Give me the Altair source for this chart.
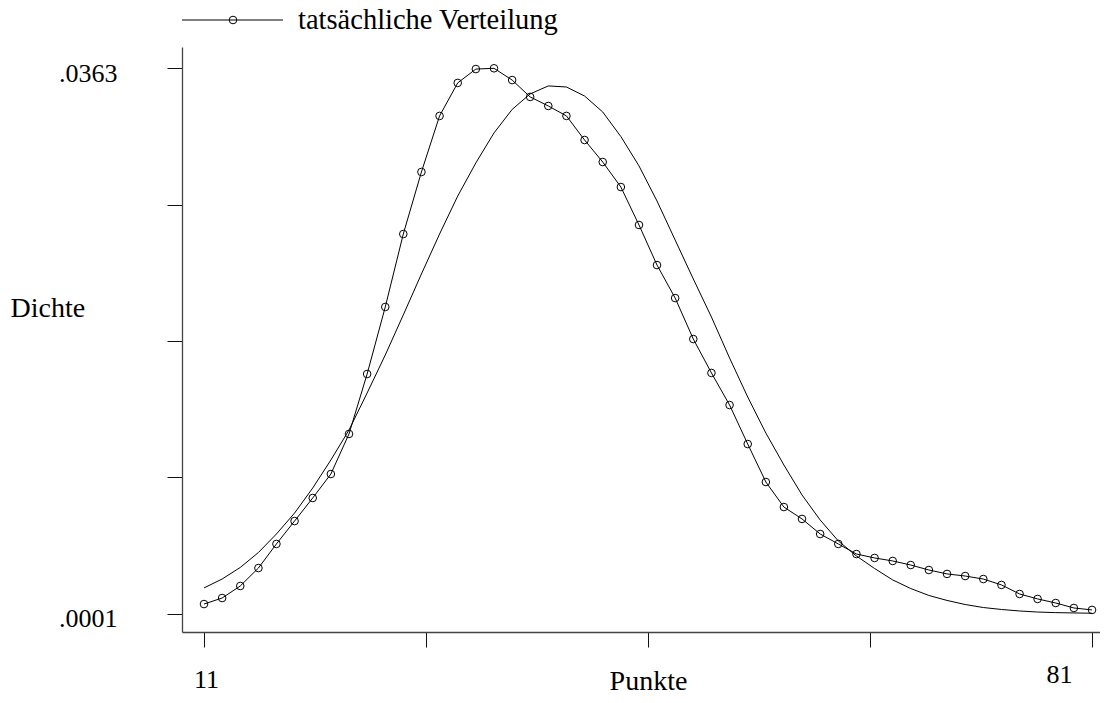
import altair as alt
import pandas as pd

# ---- data ----
x_points = [11.00, 12.43, 13.86, 15.29, 16.71, 18.14, 19.57, 21.00, 22.43, 23.86,
            25.29, 26.71, 28.14, 29.57, 31.00, 32.43, 33.86, 35.29, 36.71, 38.14,
            39.57, 41.00, 42.43, 43.86, 45.29, 46.71, 48.14, 49.57, 51.00, 52.43,
            53.86, 55.29, 56.71, 58.14, 59.57, 61.00, 62.43, 63.86, 65.29, 66.71,
            68.14, 69.57, 71.00, 72.43, 73.86, 75.29, 76.71, 78.14, 79.57, 81.00]

kernel_density = [0.00074, 0.00114, 0.00194, 0.00313, 0.00473, 0.00625, 0.00778, 0.00937, 0.01203, 0.01601,
                  0.02046, 0.02530, 0.02942, 0.03314, 0.03533, 0.03625, 0.03630, 0.03552, 0.03440, 0.03380,
                  0.03314, 0.03154, 0.03008, 0.02842, 0.02590, 0.02324, 0.02105, 0.01833, 0.01608, 0.01395,
                  0.01136, 0.00884, 0.00718, 0.00639, 0.00539, 0.00473, 0.00406, 0.00380, 0.00360, 0.00333,
                  0.00300, 0.00274, 0.00260, 0.00240, 0.00201, 0.00141, 0.00108, 0.00081, 0.00048, 0.00035]

normal_density = [0.00181, 0.00240, 0.00317, 0.00416, 0.00539, 0.00678, 0.00844, 0.01030, 0.01229, 0.01475,
                  0.01727, 0.01993, 0.02265, 0.02530, 0.02782, 0.03002, 0.03201, 0.03357, 0.03460, 0.03513,
                  0.03506, 0.03446, 0.03340, 0.03177, 0.02982, 0.02749, 0.02490, 0.02232, 0.01979, 0.01707,
                  0.01448, 0.01209, 0.00997, 0.00798, 0.00632, 0.00493, 0.00393, 0.00310, 0.00234, 0.00177,
                  0.00131, 0.00098, 0.00071, 0.00051, 0.00038, 0.00028, 0.00021, 0.00017, 0.00015, 0.00013]

x_tick_values = [11, 28.5, 46, 63.5, 81]
x_tick_labels = ["11", "", "", "", "81"]
y_tick_values = [0.0001, 0.00915, 0.0182, 0.02725, 0.0363]
y_tick_labels = [".0001", "", "", "", ".0363"]
legend_labels = ["tatsächliche Verteilung"]
x_title = "Punkte"
y_title = "Dichte"

df = pd.DataFrame({"x": x_points, "kd": kernel_density, "nd": normal_density})

FONT = "Liberation Serif"


def label_expr(values, labels):
    parts = [f"datum.value == {v} ? '{l}'" for v, l in zip(values, labels) if l]
    return " : ".join(parts) + " : ''"


x_scale = alt.Scale(domain=[9.266, 81.629], nice=False, zero=False)
y_scale = alt.Scale(domain=[-0.001115, 0.037714], nice=False, zero=False)

x_axis = alt.Axis(
    values=x_tick_values, labelExpr=label_expr(x_tick_values, x_tick_labels),
    title=x_title, grid=False,
    domainColor="#444", domainWidth=1.3, tickColor="#111", tickWidth=1, tickSize=15,
    labelFont=FONT, labelFontSize=26, labelColor="black", labelBaseline="top",
    labelAlign="center", labelFlush=False, labelOverlap=False,
    labelPadding={"condition": {"test": "datum.value == 81", "value": 14}, "value": 19},
    labelOffset={"condition": {"test": "datum.value == 81", "value": -33}, "value": 2},
    titleFont=FONT, titleFontSize=28, titleFontWeight="normal", titleColor="black",
    titleX=466, titleY=57, titleAlign="center", titleBaseline="alphabetic",
)

y_axis = alt.Axis(
    values=y_tick_values, labelExpr=label_expr(y_tick_values, y_tick_labels),
    title=y_title, grid=False,
    domainColor="#444", domainWidth=1.3, tickColor="#111", tickWidth=1, tickSize=15,
    labelFont=FONT, labelFontSize=26, labelColor="black", labelBaseline="middle",
    labelAlign="right", labelPadding=50, labelOffset=5, labelFlush=False, labelOverlap=False,
    titleFont=FONT, titleFontSize=28, titleFontWeight="normal", titleColor="black",
    titleAngle=0, titleX=-172, titleY=261, titleAlign="left", titleBaseline="middle",
)

base = alt.Chart(df)

normal_line = base.mark_line(color="black", strokeWidth=1).encode(
    x=alt.X("x:Q", scale=x_scale, axis=x_axis),
    y=alt.Y("nd:Q", scale=y_scale, axis=y_axis),
)

kd_line = base.mark_line(color="black", strokeWidth=1).encode(
    x=alt.X("x:Q", scale=x_scale),
    y=alt.Y("kd:Q", scale=y_scale),
)

kd_points = base.mark_point(shape="circle", filled=False, size=58, color="black",
                            strokeWidth=1, opacity=1).encode(
    x=alt.X("x:Q", scale=x_scale),
    y=alt.Y("kd:Q", scale=y_scale),
)

# legend key (decoration above the plot)
one = alt.Data(values=[{"label": legend_labels[0]}])
leg_rule = alt.Chart(one).mark_rule(color="black", strokeWidth=1).encode(
    x=alt.value(0), x2=alt.value(101), y=alt.value(-27))
leg_point = alt.Chart(one).mark_point(shape="circle", filled=False, size=58, color="black",
                                      strokeWidth=1, opacity=1).encode(
    x=alt.value(51), y=alt.value(-27))
leg_text = alt.Chart(one).mark_text(font=FONT, fontSize=28.5, align="left", baseline="middle",
                                    color="black").encode(
    x=alt.value(116), y=alt.value(-27.5), text="label:N")

chart = alt.layer(normal_line, kd_line, kd_points, leg_rule, leg_point, leg_text).properties(
    width=918, height=585,
    padding={"left": 174, "top": 39, "right": 0, "bottom": 63},
    autosize=alt.AutoSizeParams(type="none"),
    background="white",
).configure_view(stroke=None)

chart.save("out.html", embed_options={"renderer": "svg", "actions": False})
